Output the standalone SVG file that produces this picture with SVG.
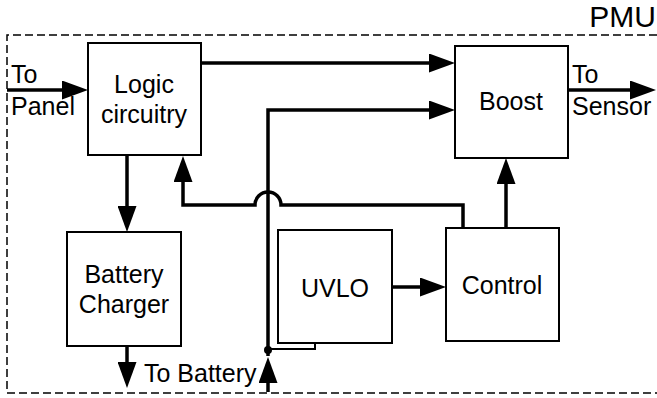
<svg xmlns="http://www.w3.org/2000/svg" width="657" height="398" viewBox="0 0 657 398">
<defs>
<style>
.box{fill:#fff;stroke:#000;stroke-width:2}
.lbl{font-family:"Liberation Sans",Arial,Helvetica,sans-serif;font-size:25px;fill:#000}
.mid{text-anchor:middle}
.wire{fill:none;stroke:#000;stroke-width:3.5;stroke-linejoin:miter}
.thin{fill:none;stroke:#000;stroke-width:2}
.arr{marker-end:url(#ah)}
</style>
<marker id="ah" viewBox="0 0 26 19" markerWidth="26" markerHeight="19" refX="16" refY="9.5" orient="auto" markerUnits="userSpaceOnUse">
<path d="M0,0 L26,9.5 L0,19 Z" fill="#000"/>
</marker>
</defs>
<rect width="657" height="398" fill="#fff"/>
<g id="pmu-frame">
<path d="M657,35 H7 V393 H657" fill="none" stroke="#000" stroke-width="1.5" stroke-dasharray="8 4"/>
<text class="lbl" x="656" y="27" text-anchor="end" style="font-size:30px">PMU</text>
</g>
<g id="connectors">
<path class="wire arr" d="M7,90 H78"/>
<path class="wire arr" d="M201,63 H445"/>
<path class="wire arr" d="M268,356 V110 H445"/>
<path class="wire arr" d="M268,392 V367"/>
<path class="thin" d="M315,343 V349 H268"/>
<circle cx="268" cy="350" r="4" fill="#000"/>
<path class="wire arr" d="M463,228 V205 H281 A13,13 0 0 0 255,205 H183 V166"/>
<path class="wire arr" d="M506,228 V168"/>
<path class="wire arr" d="M127,155 V222"/>
<path class="wire arr" d="M127,346 V378"/>
<path class="wire arr" d="M392,287 H436"/>
<path class="wire arr" d="M568,90 H646"/>
<text class="lbl" x="11" y="83">To</text>
<text class="lbl" x="11" y="115">Panel</text>
<text class="lbl" x="572" y="83">To</text>
<text class="lbl" x="572" y="115">Sensor</text>
<text class="lbl" x="144" y="382">To Battery</text>
</g>
<g id="logic">
<rect class="box" x="88" y="43" width="113" height="112"/>
<text class="lbl mid" x="144" y="93">Logic</text>
<text class="lbl mid" x="144" y="123">circuitry</text>
</g>
<g id="boost">
<rect class="box" x="455" y="46" width="113" height="112"/>
<text class="lbl mid" x="511" y="110">Boost</text>
</g>
<g id="charger">
<rect class="box" x="67" y="232" width="114" height="114"/>
<text class="lbl mid" x="124" y="283">Battery</text>
<text class="lbl mid" x="124" y="313">Charger</text>
</g>
<g id="uvlo">
<rect class="box" x="278" y="230" width="114" height="113"/>
<text class="lbl mid" x="335" y="297">UVLO</text>
</g>
<g id="control">
<rect class="box" x="446" y="228" width="113" height="113"/>
<text class="lbl mid" x="502" y="294">Control</text>
</g>
</svg>
